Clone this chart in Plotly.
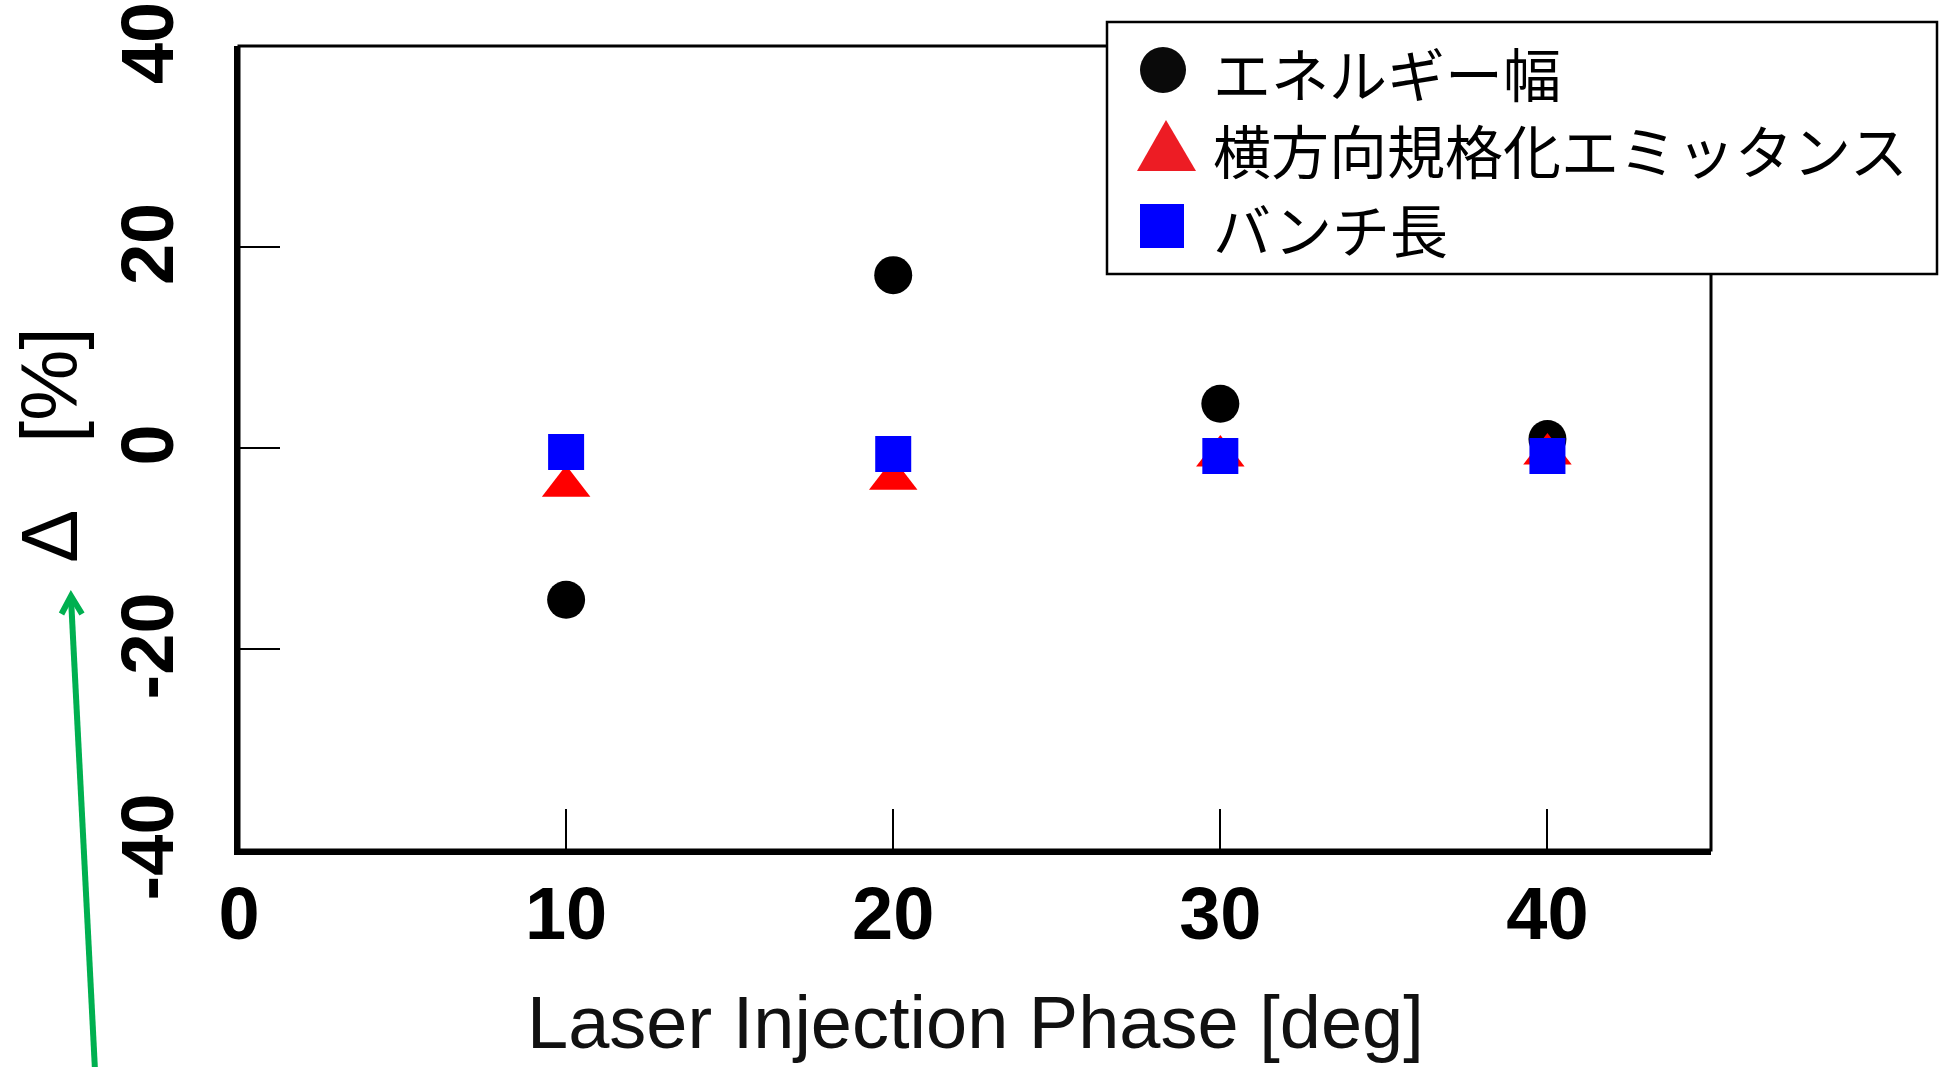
import plotly.graph_objects as go

# Measured change of each beam quantity versus laser injection phase
phase = [10, 20, 30, 40]
energy_spread = [-15.1, 17.2, 4.4, 0.9]
emittance = [-3.8, -3.1, -0.8, -0.6]
bunch_length = [-0.4, -0.6, -0.8, -0.8]

series_names = ["エネルギー幅", "横方向規格化エミッタンス", "バンチ長"]

x_ticks = [0, 10, 20, 30, 40]
y_ticks = [-40, -20, 0, 20, 40]
y_ticktext = ["-40", "-20", "0", "20", "40"]

x_title = "Laser Injection Phase [deg]"
y_title = "Δ\u00a0\u00a0\u00a0[%]"

# Page geometry (pixels)
W, H = 1943, 1067
L, R, T, B = 239, 1711, 46, 850


def px(x):
    return (x - L) / (R - L)


def py(y):
    return (B - y) / (B - T)


tick_font = dict(family="Liberation Sans Narrow, Liberation Sans, Arial", size=74,
                 color="black", weight="bold")

fig = go.Figure()
fig.add_trace(go.Scatter(x=phase, y=energy_spread, mode="markers", name=series_names[0],
                         marker=dict(symbol="circle", size=38, color="black", line=dict(width=0))))
fig.add_trace(go.Scatter(x=phase, y=emittance, mode="markers", name=series_names[1],
                         marker=dict(symbol="triangle-up", size=42, color="#FF0000", line=dict(width=0))))
fig.add_trace(go.Scatter(x=phase, y=bunch_length, mode="markers", name=series_names[2],
                         marker=dict(symbol="square", size=36, color="#0000FF", line=dict(width=0))))

axis_common = dict(
    showgrid=False, zeroline=False, automargin=False,
    showline=True, linewidth=5, linecolor="black",
    ticks="inside", ticklen=41, tickwidth=2, tickcolor="black",
    tickfont=tick_font, ticklabeloverflow="allow",
)

fig.update_xaxes(range=[0, 45], tickmode="array", tickvals=x_ticks,
                 ticktext=[str(v) for v in x_ticks], ticklabelstandoff=-5, **axis_common)
fig.update_yaxes(range=[-40, 40], tickmode="array", tickvals=y_ticks,
                 ticktext=y_ticktext, tickangle=-90, ticklabelstandoff=31,
                 ticklabelshift=8, **axis_common)

shapes = []
# thin frame on top and right
shapes.append(dict(type="rect", xref="paper", yref="paper", x0=0, x1=1, y0=0, y1=1,
                   line=dict(color="black", width=3), layer="above"))

# legend box (drawn over the frame corner)
shapes.append(dict(type="rect", xref="paper", yref="paper",
                   x0=px(1107), x1=px(1937), y0=py(274), y1=py(22),
                   line=dict(color="black", width=2.5), fillcolor="white", layer="above"))
# legend symbols
shapes.append(dict(type="circle", xref="paper", yref="paper",
                   x0=px(1140), x1=px(1186), y0=py(93), y1=py(47),
                   line=dict(width=0), fillcolor="#0A0A0A", layer="above"))
shapes.append(dict(type="path", xref="paper", yref="paper",
                   path=f"M {px(1166)} {py(120)} L {px(1196)} {py(171)} L {px(1137)} {py(171)} Z",
                   line=dict(width=0), fillcolor="#ED1C24", layer="above"))
shapes.append(dict(type="rect", xref="paper", yref="paper",
                   x0=px(1140), x1=px(1184), y0=py(248), y1=py(204),
                   line=dict(width=0), fillcolor="#0000FF", layer="above"))

# green pointer arrow toward the Δ symbol
green = "#00B050"
shapes.append(dict(type="path", xref="paper", yref="paper",
                   path=f"M {px(71)} {py(598)} L {px(96)} {py(1090)}",
                   line=dict(color=green, width=6), layer="above"))
shapes.append(dict(type="path", xref="paper", yref="paper",
                   path=f"M {px(61.5)} {py(614)} L {px(71)} {py(596)} L {px(82)} {py(614)}",
                   line=dict(color=green, width=6), layer="above"))

annotations = []
legend_rows_y = [72, 149.5, 227.5]
for name, yc in zip(series_names, legend_rows_y):
    annotations.append(dict(text=name, xref="paper", yref="paper", x=px(1211), y=py(yc),
                            xanchor="left", yanchor="middle", showarrow=False,
                            font=dict(family="Noto Sans CJK JP", size=58, color="black")))

annotations.append(dict(text=x_title, xref="paper", yref="paper", x=0.5, y=py(1022),
                        xanchor="center", yanchor="middle", showarrow=False,
                        font=dict(family="Liberation Sans, Arial", size=74, color="#111111")))
annotations.append(dict(text=y_title, xref="paper", yref="paper", x=px(49), y=py(445),
                        xanchor="center", yanchor="middle", showarrow=False, textangle=-90,
                        font=dict(family="Liberation Sans, Arial", size=80, color="black")))

fig.update_layout(
    width=W, height=H,
    margin=dict(l=L, r=W - R, t=T, b=H - B, pad=0),
    paper_bgcolor="white", plot_bgcolor="white",
    showlegend=False,
    shapes=shapes,
    annotations=annotations,
)

fig.write_html("out.html")
